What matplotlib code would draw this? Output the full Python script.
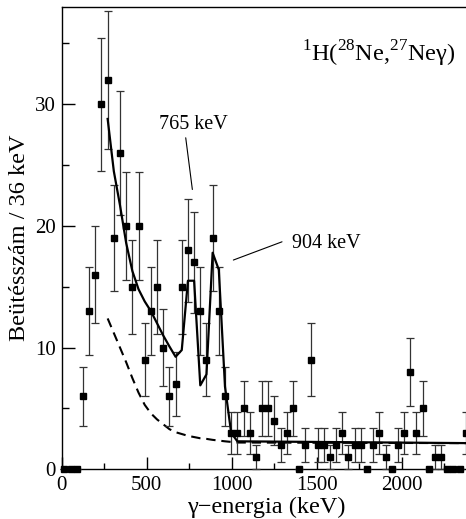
import matplotlib
matplotlib.use('Agg')
import matplotlib.pyplot as plt
import numpy as np
from matplotlib.ticker import MultipleLocator

plt.rcParams['font.family'] = ['Liberation Serif', 'DejaVu Serif']
plt.rcParams['mathtext.fontset'] = 'custom'
plt.rcParams['mathtext.rm'] = 'Liberation Serif'

# counts per 36 keV bin
counts = [0, 0, 0, 6, 13, 16, 30, 32, 19, 26,
          20, 15, 20, 9, 13, 15, 10, 6, 7, 15,
          18, 17, 13, 9, 19, 13, 6, 3, 3, 5,
          3, 1, 5, 5, 4, 2, 3, 5, 0, 2,
          9, 2, 2, 1, 2, 3, 1, 2, 2, 0,
          2, 3, 1, 0, 2, 3, 8, 3, 5, 0,
          1, 1, 0, 0, 0, 3]
first_center = 16.
bin_width = 36.3
energy = first_center + bin_width * np.arange(len(counts))
errors = np.sqrt(counts)

# fit (solid) and background (dashed), sampled at bin centres from bin 7 on
fit_total = [28.8, 24.5, 21.7, 18.6, 16.3, 14.8, 13.8, 13.0, 12.0, 11.0,
             10.1, 9.25, 9.8, 15.5, 15.5, 6.9, 7.8, 17.8, 16.4, 6.8,
             3.0, 2.3, 2.15]
fit_bkg = [12.4, 11.2, 10.0, 8.8, 7.5, 6.3, 5.3, 4.6, 4.1, 3.7,
           3.3, 3.05, 2.9, 2.75, 2.65, 2.55, 2.5, 2.42, 2.36, 2.3,
           2.25, 2.2, 2.15]
fit_energy = list(energy[7:29]) + [2400.]

fig = plt.figure(figsize=(4.66, 5.19), dpi=100)
ax = fig.add_axes([61.7 / 466, 49.7 / 519, 408.3 / 466, 462.3 / 519])

ax.errorbar(energy, counts, yerr=errors, fmt='s', color='black', ms=3.9,
            ecolor='#333333', elinewidth=0.9, capsize=2.6, capthick=0.9,
            clip_on=False, zorder=3)
ax.plot(fit_energy, fit_total, color='black', lw=1.6, zorder=4)
ax.plot(fit_energy, fit_bkg, color='black', lw=1.5, dashes=(4.5, 2.8), zorder=2)

ax.set_xlim(0, 2400)
ax.set_ylim(0, 38)
ax.xaxis.set_major_locator(MultipleLocator(500))
ax.xaxis.set_minor_locator(MultipleLocator(250))
ax.yaxis.set_major_locator(MultipleLocator(10))
ax.yaxis.set_minor_locator(MultipleLocator(5))
ax.tick_params(which='both', direction='in', top=False, right=False,
               labelsize=15, width=1.0)
ax.tick_params(axis='x', which='major', length=9, pad=5)
ax.tick_params(axis='x', which='minor', length=4.3)
ax.tick_params(axis='y', which='major', length=9.4, pad=4.5)
ax.tick_params(axis='y', which='minor', length=5)
for s in ax.spines.values():
    s.set_linewidth(1.0)

ax.set_xlabel('γ−energia (keV)', fontsize=17.5)
ax.xaxis.set_label_coords(0.5, -0.0945)
ax.xaxis.label.set_va('baseline')
ax.set_ylabel('Beütésszám / 36 keV', fontsize=17.5)
ax.yaxis.set_label_coords(-0.103, 0.5)
ax.yaxis.label.set_va('center')

ax.text(1410, 33.55, r'$^{1}$H($^{28}$Ne,$^{27}$Neγ)', fontsize=17.5,
        ha='left', va='baseline')
ax.text(574, 28.0, '765 keV', fontsize=14.5, ha='left', va='baseline')
ax.text(1352, 18.2, '904 keV', fontsize=14.5, ha='left', va='baseline')
ax.annotate('', xy=(768, 23.0), xytext=(729, 27.25),
            arrowprops=dict(arrowstyle='-', lw=0.8, color='black',
                            shrinkA=0, shrinkB=0))
ax.annotate('', xy=(1009, 17.2), xytext=(1295, 18.7),
            arrowprops=dict(arrowstyle='-', lw=0.8, color='black',
                            shrinkA=0, shrinkB=0))

fig.savefig('out.png', dpi=100)
